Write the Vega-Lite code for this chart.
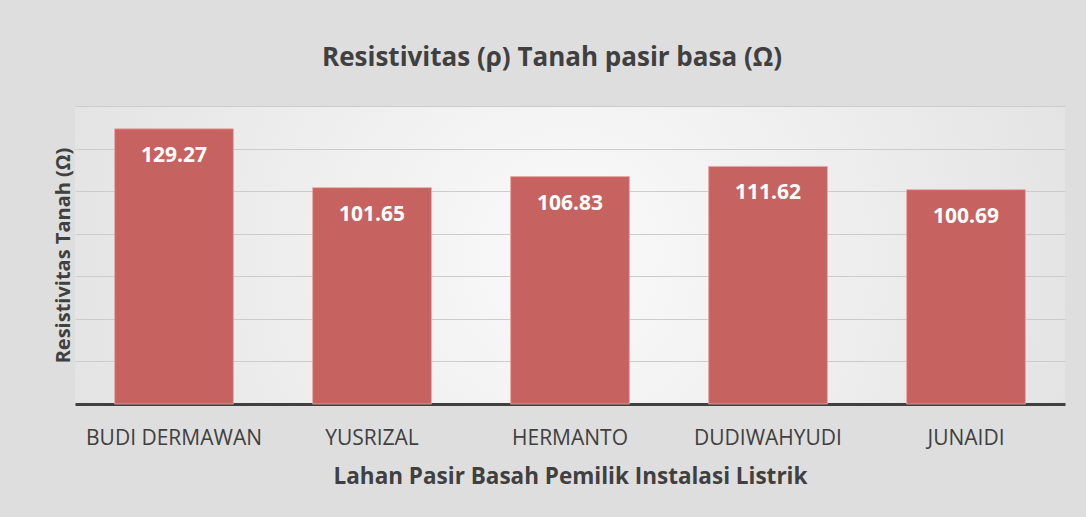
{
  "$schema": "https://vega.github.io/schema/vega-lite/v6.json",
  "width": 990,
  "height": 298,
  "autosize": {"type": "none"},
  "padding": {"left": 75, "top": 106, "right": 21, "bottom": 113},
  "background": "#dedede",
  "title": {
    "text": "Resistivitas (ρ) Tanah pasir basa (Ω)",
    "font": "Open Sans",
    "fontSize": 26,
    "fontWeight": "bold",
    "color": "#404040",
    "anchor": "middle",
    "dx": -18,
    "offset": 35
  },
  "config": {
    "view": {
      "stroke": null,
      "fill": {
        "gradient": "radial",
        "x1": 0.5, "y1": 0.5, "r1": 0,
        "x2": 0.5, "y2": 0.5, "r2": 0.75,
        "stops": [
          {"offset": 0, "color": "#fafafa"},
          {"offset": 1, "color": "#dadada"}
        ]
      }
    }
  },
  "data": {
    "values": [
      {"lahan": "BUDI DERMAWAN", "nilai": 129.27},
      {"lahan": "YUSRIZAL", "nilai": 101.65},
      {"lahan": "HERMANTO", "nilai": 106.83},
      {"lahan": "DUDIWAHYUDI", "nilai": 111.62},
      {"lahan": "JUNAIDI", "nilai": 100.69}
    ]
  },
  "encoding": {
    "x": {
      "field": "lahan",
      "type": "nominal",
      "sort": null,
      "scale": {"paddingInner": 0.4, "paddingOuter": 0.2},
      "axis": {
        "title": "Lahan Pasir Basah Pemilik Instalasi Listrik",
        "titleFont": "Open Sans",
        "titleFontSize": 22.5,
        "titleFontWeight": "bold",
        "titleColor": "#404040",
        "titlePadding": 17,
        "labelAngle": 0,
        "labelFont": "Open Sans",
        "labelFontSize": 21,
        "labelColor": "#404040",
        "labelPadding": 23,
        "ticks": false,
        "domainColor": "#404040",
        "domainWidth": 3
      }
    },
    "y": {
      "field": "nilai",
      "type": "quantitative",
      "scale": {"domain": [0, 140]},
      "axis": {
        "title": "Resistivitas Tanah (Ω)",
        "titleFont": "Open Sans",
        "titleFontSize": 20,
        "titleFontWeight": "bold",
        "titleColor": "#404040",
        "titlePadding": 2,
        "labels": false,
        "ticks": false,
        "domain": false,
        "values": [20, 40, 60, 80, 100, 120, 140],
        "gridColor": "#cccccc",
        "gridWidth": 1
      }
    }
  },
  "layer": [
    {"mark": {"type": "bar", "color": "#C66361", "stroke": "#e8a8a6", "strokeWidth": 0.8}},
    {
      "mark": {"type": "text", "color": "white", "font": "Open Sans", "fontSize": 21, "fontWeight": "bold", "baseline": "middle", "dy": 27},
      "encoding": {"text": {"field": "nilai", "type": "quantitative", "format": ".2f"}}
    }
  ]
}
